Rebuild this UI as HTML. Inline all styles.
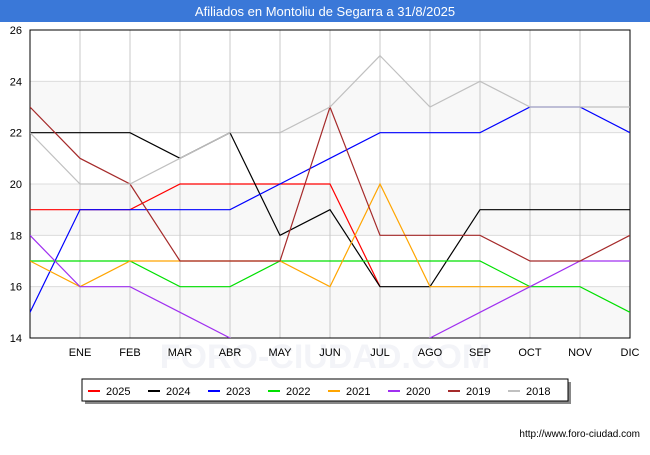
<!DOCTYPE html>
<html><head><meta charset="utf-8"><style>
body{margin:0;background:#fff;font-family:"Liberation Sans",sans-serif}
</style></head><body>
<svg width="650" height="450" xmlns="http://www.w3.org/2000/svg">
<rect x="0" y="0" width="650" height="450" fill="#fff"/>
<rect x="0" y="0" width="650" height="22" fill="#3a78d8"/>
<text x="325" y="16" text-anchor="middle" font-size="13" fill="#fff">Afiliados en Montoliu de Segarra a 31/8/2025</text>
<g id="bands"></g>
<text x="325" y="368" text-anchor="middle" font-size="34" fill="#f3f4f8" font-weight="bold">FORO-CIUDAD.COM</text>
<g id="plot"></g>
<g id="lines"></g>
<g id="legend"></g>
<text x="640" y="437" text-anchor="end" font-size="10" fill="#000">http://www.foro-ciudad.com</text>
</svg>
<script>
const months=["","ENE","FEB","MAR","ABR","MAY","JUN","JUL","AGO","SEP","OCT","NOV","DIC"];
const yTicks=[14,16,18,20,22,24,26];
const seriesNames=["2025","2024","2023","2022","2021","2020","2019","2018"];
const seriesColors=["#ff0000","#000000","#0000ff","#00e000","#ffa500","#a030f0","#a52a2a","#c0c0c0"];
const s2025=[19,19,19,20,20,20,20,16];
const s2024=[22,22,22,21,22,18,19,16,16,19,19,19,19];
const s2023=[15,19,19,19,19,20,21,22,22,22,23,23,22];
const s2022=[17,17,17,16,16,17,17,17,17,17,16,16,15];
const s2021=[17,16,17,17,17,17,16,20,16,16,16];
const s2020=[18,16,16,15,14,13,13,13,14,15,16,17,17];
const s2019=[23,21,20,17,17,17,23,18,18,18,17,17,18];
const s2018=[22,20,20,21,22,22,23,25,23,24,23,23,23];
const allSeries=[s2025,s2024,s2023,s2022,s2021,s2020,s2019,s2018];
const NS="http://www.w3.org/2000/svg";
const L=30,R=630,T=30,B=338;
const x=i=>L+i*(R-L)/(months.length-1);
const y=v=>B-(v-14)*(B-T)/(26-14);
function mk(t,a,p){const e=document.createElementNS(NS,t);for(const k in a)e.setAttribute(k,a[k]);p.appendChild(e);return e;}
const bands=document.getElementById('bands');
const plot=document.getElementById('plot');
for(let i=0;i<yTicks.length-1;i++){
  if(i%2==0){const r=mk('rect',{x:L,y:y(yTicks[i+1]),width:R-L,height:y(yTicks[i])-y(yTicks[i+1]),fill:'#f8f8f8'},bands);
  
  }
}
yTicks.forEach(v=>{
  const l=mk('line',{x1:L,x2:R,y1:y(v),y2:y(v),stroke:'#dcdcdc'},plot);
  
  
  const t=mk('text',{x:L-8,y:y(v)+4,'text-anchor':'end','font-size':11},plot);t.textContent=v;
  
  
});
months.forEach((m,i)=>{
  if(i>0){const l=mk('line',{x1:x(i),x2:x(i),y1:T,y2:B,stroke:'#c8c8c8'},plot);
  
  
  const t=mk('text',{x:x(i),y:B+18,'text-anchor':'middle','font-size':11},plot);t.textContent=m;
  
  }
});
const fr=mk('rect',{x:L,y:T,width:R-L,height:B-T,fill:'none',stroke:'#000'},plot);


const lines=document.getElementById('lines');
mk('clipPath',{id:'cp'},lines);
mk('rect',{x:L,y:T,width:R-L,height:B-T},lines.firstChild);
for(let s=0;s<allSeries.length;s++){
  const pts=allSeries[s].map((v,i)=>x(i)+','+y(v)).join(' ');
  const p=mk('polyline',{points:pts,fill:'none',stroke:seriesColors[s],'stroke-width':1.2,'clip-path':'url(#cp)'},lines);
  
  
}
const lg=document.getElementById('legend');
const sh=mk('rect',{x:85,y:382,width:486,height:22,fill:'#888'},lg);


const box=mk('rect',{x:82,y:379,width:486,height:22,fill:'#fff',stroke:'#000'},lg);


seriesNames.forEach((n,i)=>{
  const g=mk('g',{},lg);
  
  
  const bx=88+i*60;
  mk('line',{x1:bx,x2:bx+12,y1:391,y2:391,stroke:seriesColors[i],'stroke-width':2},g);
  const t=mk('text',{x:bx+18,y:395,'font-size':11},g);t.textContent=n;
});
</script>
</body></html>
